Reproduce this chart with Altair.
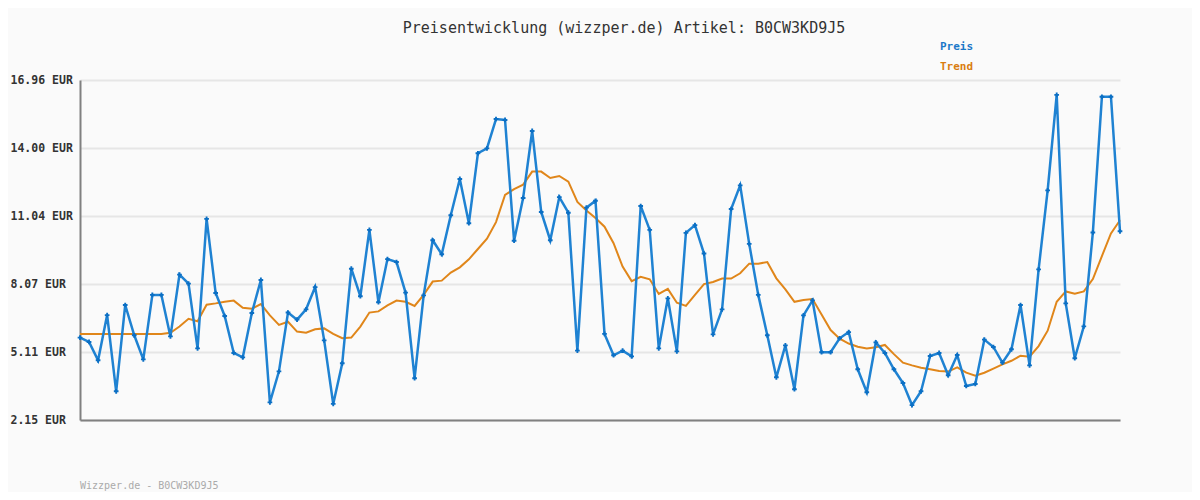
import altair as alt
import pandas as pd

title_text = "Preisentwicklung (wizzper.de) Artikel: B0CW3KD9J5"
footer_text = "Wizzper.de - B0CW3KD9J5"
legend_labels = ["Preis", "Trend"]
tick_values = [2.15, 5.112, 8.074, 11.036, 13.998, 16.96]

preis = [5.74, 5.55, 4.75, 6.72, 3.40, 7.16, 5.84, 4.79, 7.60, 7.60,
         5.79, 8.48, 8.09, 5.27, 10.91, 7.68, 6.68, 5.07, 4.88, 6.81,
         8.25, 2.92, 4.27, 6.83, 6.52, 6.97, 7.94, 5.62, 2.85, 4.62,
         8.74, 7.54, 10.43, 7.28, 9.16, 9.03, 7.70, 3.97, 7.58, 9.98,
         9.37, 11.07, 12.65, 10.72, 13.77, 13.98, 15.26, 15.22, 9.96, 11.82,
         14.74, 11.21, 9.98, 11.86, 11.18, 5.17, 11.40, 11.70, 5.90, 4.97,
         5.17, 4.92, 11.47, 10.43, 5.27, 7.45, 5.14, 10.30, 10.64, 9.40,
         5.88, 6.97, 11.34, 12.37, 9.82, 7.60, 5.84, 4.01, 5.40, 3.49,
         6.71, 7.36, 5.10, 5.10, 5.71, 5.98, 4.36, 3.36, 5.53, 5.07,
         4.36, 3.76, 2.80, 3.40, 4.94, 5.07, 4.10, 4.98, 3.63, 3.72,
         5.65, 5.33, 4.65, 5.23, 7.16, 4.53, 8.71, 12.15, 16.31, 7.23,
         4.84, 6.23, 10.32, 16.23, 16.23, 10.37]

trend = [5.90, 5.90, 5.90, 5.90, 5.90, 5.90, 5.90, 5.90, 5.90, 5.90,
         5.95, 6.22, 6.56, 6.45, 7.17, 7.23, 7.30, 7.35, 7.04, 7.00,
         7.20, 6.71, 6.29, 6.43, 6.00, 5.95, 6.10, 6.14, 5.90, 5.71,
         5.74, 6.22, 6.83, 6.88, 7.14, 7.35, 7.30, 7.12, 7.60, 8.18,
         8.22, 8.57, 8.80, 9.15, 9.60, 10.05, 10.77, 11.95, 12.21, 12.40,
         12.97, 12.97, 12.69, 12.78, 12.53, 11.65, 11.28, 10.95, 10.57, 9.85,
         8.83, 8.20, 8.39, 8.28, 7.64, 7.86, 7.26, 7.12, 7.60, 8.07,
         8.16, 8.31, 8.31, 8.54, 8.96, 8.96, 9.03, 8.32, 7.84, 7.30,
         7.38, 7.42, 6.75, 6.07, 5.69, 5.48, 5.34, 5.26, 5.32, 5.42,
         5.02, 4.65, 4.53, 4.43, 4.36, 4.28, 4.26, 4.44, 4.21, 4.08,
         4.21, 4.39, 4.57, 4.73, 4.95, 4.91, 5.37, 6.04, 7.30, 7.75,
         7.65, 7.75, 8.29, 9.29, 10.28, 10.85]

df = pd.DataFrame({"i": list(range(len(preis))), "preis": preis, "trend": trend})

BLUE = "#1f82d2"
BLUE_DARK = "#0b6fc4"
ORANGE = "#e0861a"
MONO = "DejaVu Sans Mono"

xs = alt.X("i:Q", scale=alt.Scale(domain=[0, len(preis) - 1], nice=False, zero=False),
           axis=alt.Axis(title=None, labels=False, ticks=False, grid=False,
                         domainColor="#808080", domainWidth=2))
ys_axis = alt.Axis(title=None, values=tick_values, grid=True, gridColor="#e6e6e6", gridWidth=2,
                   ticks=False, domainColor="#808080", domainWidth=2,
                   labelExpr="format(datum.value, '.2f') + ' EUR'",
                   labelFont=MONO, labelFontSize=11.5, labelFontWeight="bold",
                   labelColor="#333333", labelPadding=70, labelAlign="left",
                   labelBaseline="middle")
yscale = alt.Scale(domain=[2.15, 16.96], nice=False, zero=False)

base = alt.Chart(df)

grid_layer = base.mark_line(opacity=0).encode(
    x=xs, y=alt.Y("preis:Q", scale=yscale, axis=ys_axis))

trend_line = base.mark_line(color=ORANGE, strokeWidth=2).encode(
    x=alt.X("i:Q"), y=alt.Y("trend:Q"))

preis_line = base.mark_line(color=BLUE, strokeWidth=2.5).encode(
    x=alt.X("i:Q"), y=alt.Y("preis:Q"))

preis_pts = base.mark_point(shape="cross", filled=True, color=BLUE_DARK, size=22, opacity=1).encode(
    x=alt.X("i:Q"), y=alt.Y("preis:Q"))

title_df = pd.DataFrame({"t": [title_text]})
title_mark = alt.Chart(title_df).mark_text(
    font=MONO, fontSize=15, color="#333333", align="center", baseline="middle"
).encode(text="t:N", x=alt.value(544), y=alt.value(-52))

leg1 = alt.Chart(pd.DataFrame({"t": [legend_labels[0]]})).mark_text(
    font=MONO, fontSize=11, fontWeight="bold", color="#1a78c8", align="left", baseline="middle"
).encode(text="t:N", x=alt.value(860), y=alt.value(-33))
leg2 = alt.Chart(pd.DataFrame({"t": [legend_labels[1]]})).mark_text(
    font=MONO, fontSize=11, fontWeight="bold", color="#d97d10", align="left", baseline="middle"
).encode(text="t:N", x=alt.value(860), y=alt.value(-13))

footer = alt.Chart(pd.DataFrame({"t": [footer_text]})).mark_text(
    font=MONO, fontSize=10, color="#aaaaaa", align="left", baseline="middle"
).encode(text="t:N", x=alt.value(0), y=alt.value(406))

chart = alt.layer(grid_layer, trend_line, preis_line, preis_pts, title_mark, leg1, leg2, footer).properties(
    width=1040, height=340,
    autosize=alt.AutoSizeParams(type="none"),
    padding={"left": 72, "top": 72, "right": 72, "bottom": 72},
    background="#fafafa",
).configure_view(stroke=None)

chart.save("out.html", embed_options={"renderer": "svg", "actions": False})
